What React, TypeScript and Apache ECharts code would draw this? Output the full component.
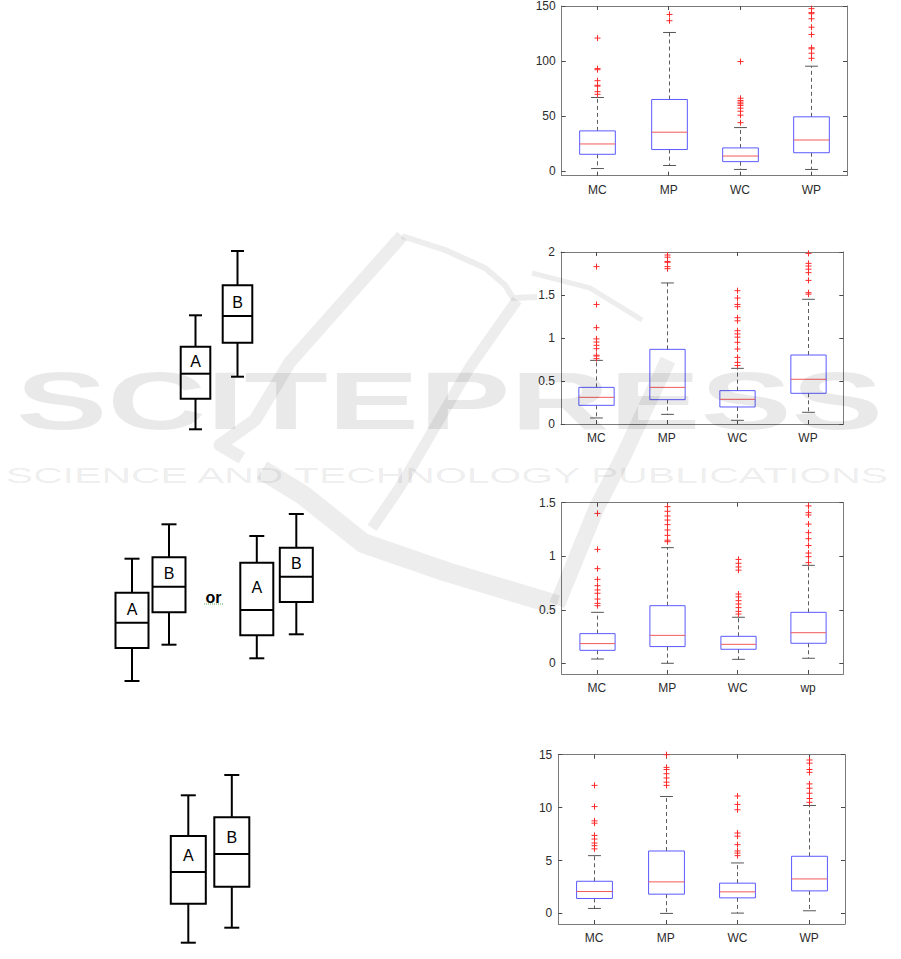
import React, { useEffect, useRef } from "react";
import * as echarts from "echarts";

// ---------- data ----------
const categoriesA = ["MC", "MP", "WC", "WP"];
const categoriesC = ["MC", "MP", "WC", "wp"];

// per group: [lower whisker, Q1, median, Q3, upper whisker]
const panel1Stats = [
  [2, 15, 24.4, 36.3, 66.7],
  [4.8, 19.3, 35.1, 64.9, 125.9],
  [1.2, 8.3, 13.4, 20.8, 39.3],
  [1.2, 16.4, 28, 49.1, 95.2],
];
const panel1Outliers = [
  [69.6, 72, 77, 77.8, 82, 92, 93, 120.8],
  [136.6, 142.3],
  [43.8, 50.6, 54.2, 57, 59.5, 61, 62.5, 64, 66, 99.4],
  [102.4, 107, 111, 112, 124, 130.7, 138.4, 143, 144, 147.6],
];

const panel2Stats = [
  [0.07, 0.217, 0.31, 0.426, 0.74],
  [0.112, 0.283, 0.426, 0.868, 1.64],
  [0.043, 0.198, 0.287, 0.388, 0.647],
  [0.136, 0.357, 0.52, 0.802, 1.45],
];
const panel2Outliers = [
  [0.76, 0.79, 0.8, 0.876, 0.915, 0.953, 0.99, 1.12, 1.39, 1.83],
  [1.806, 1.83, 1.88, 1.89, 1.94, 1.965],
  [0.68, 0.717, 0.775, 0.872, 0.95, 1.01, 1.047, 1.085, 1.2, 1.236, 1.364, 1.39, 1.465, 1.55],
  [1.51, 1.527, 1.67, 1.76, 1.8, 1.837, 1.868, 1.984],
];

const panel3Stats = [
  [0.04, 0.121, 0.184, 0.277, 0.476],
  [0, 0.156, 0.261, 0.538, 1.08],
  [0.037, 0.131, 0.177, 0.252, 0.43],
  [0.047, 0.187, 0.286, 0.476, 0.915],
];
const panel3Outliers = [
  [0.538, 0.56, 0.6, 0.654, 0.685, 0.725, 0.784, 0.884, 1.064, 1.4],
  [1.136, 1.15, 1.195, 1.245, 1.295, 1.338, 1.376, 1.42, 1.463],
  [0.46, 0.485, 0.52, 0.554, 0.585, 0.62, 0.647, 0.87, 0.9, 0.934, 0.97],
  [0.94, 0.996, 1.03, 1.1, 1.164, 1.22, 1.3, 1.385, 1.407, 1.47],
];

const panel4Stats = [
  [0.47, 1.41, 2.07, 3.04, 5.46],
  [0, 1.82, 2.98, 5.9, 11.05],
  [0.03, 1.47, 2.04, 2.86, 4.77],
  [0.25, 2.13, 3.26, 5.4, 10.2],
];
const panel4Outliers = [
  [6.1, 6.4, 6.65, 7.03, 7.37, 8.53, 8.75, 10.1, 12.1],
  [12.1, 12.4, 12.8, 13.2, 13.6, 13.8, 15],
  [5.46, 5.7, 5.9, 6.5, 7.3, 7.6, 9.8, 10.3, 11.1],
  [10.5, 10.86, 11.36, 11.83, 12.24, 13.33, 13.6, 14.2, 14.5],
];

const panel1Ticks = [0, 50, 100, 150];
const panel2Ticks = [0, 0.5, 1, 1.5, 2];
const panel3Ticks = [0, 0.5, 1, 1.5];
const panel4Ticks = [0, 5, 10, 15];

// schematic illustrations: [label, centre, whisker top, box top, median, box bottom, whisker bottom]
const schematicTop = [
  ["A", 195.5, 315.3, 346.7, 373.7, 398.7, 429.3],
  ["B", 237.5, 251, 285.3, 316, 342.7, 376.7],
];
const schematicMiddleLeft = [
  ["A", 132, 558.7, 592.7, 622.7, 648, 681],
  ["B", 169, 524.3, 557.3, 586.7, 612.3, 644.7],
];
const schematicMiddleRight = [
  ["A", 256.8, 536, 562.7, 610, 635.3, 658.3],
  ["B", 296.3, 514, 547.7, 576.7, 602, 634.3],
];
const schematicBottom = [
  ["A", 188.3, 795.3, 836, 872, 903.7, 942.7],
  ["B", 231.8, 775, 817.3, 854, 886.7, 927.7],
];

// ---------- rendering helpers ----------
const FONT = '"Liberation Sans", Arial, Helvetica, sans-serif';

function matBoxRender(params: any, api: any) {
  const i = api.value(0);
  const lo = api.coord([i, api.value(1)]);
  const q1 = api.coord([i, api.value(2)]);
  const md = api.coord([i, api.value(3)]);
  const q3 = api.coord([i, api.value(4)]);
  const hi = api.coord([i, api.value(5)]);
  const band = api.size([1, 0])[0];
  const hw = band * 0.25;
  const cw = band * 0.09;
  const cx = Math.round(lo[0]) + 0.5;
  const dash = { stroke: "#5c5c5c", lineWidth: 1, lineDash: [4, 3] };
  const cap = { stroke: "#555555", lineWidth: 1 };
  return {
    type: "group",
    children: [
      { type: "line", shape: { x1: cx, y1: q3[1], x2: cx, y2: hi[1] }, style: dash },
      { type: "line", shape: { x1: cx, y1: q1[1], x2: cx, y2: lo[1] }, style: dash },
      { type: "line", shape: { x1: cx - cw, y1: hi[1], x2: cx + cw, y2: hi[1] }, style: cap },
      { type: "line", shape: { x1: cx - cw, y1: lo[1], x2: cx + cw, y2: lo[1] }, style: cap },
      {
        type: "rect",
        shape: { x: cx - hw, y: q3[1], width: hw * 2, height: q1[1] - q3[1] },
        style: { fill: "none", stroke: "#5a5aff", lineWidth: 1 },
      },
      { type: "line", shape: { x1: cx - hw, y1: md[1], x2: cx + hw, y2: md[1] }, style: { stroke: "#f25a5a", lineWidth: 1 } },
    ],
  };
}

function plusRender(params: any, api: any) {
  const p = api.coord([api.value(0), api.value(1)]);
  const x = Math.round(p[0]) + 0.5;
  const y = p[1];
  const s = 3;
  const st = { stroke: "#ff2a2a", lineWidth: 1 };
  return {
    type: "group",
    children: [
      { type: "line", shape: { x1: x - s, y1: y, x2: x + s, y2: y }, style: st },
      { type: "line", shape: { x1: x, y1: y - s, x2: x, y2: y + s }, style: st },
    ],
  };
}

function makeSchematicRender(boxWidth: number, capWidth: number) {
  return (params: any, api: any) => {
    const cx = api.value(1);
    const pts = [2, 3, 4, 5, 6].map((k) => api.coord([cx, api.value(k)]));
    const x = pts[0][0];
    const [wt, bt, md, bb, wb] = pts.map((p: number[]) => p[1]);
    const hw = boxWidth / 2;
    const ln = { stroke: "#000", lineWidth: 2 };
    const label = params.dataIndex === 0 ? "A" : "B";
    return {
      type: "group",
      children: [
        { type: "line", shape: { x1: x, y1: wt, x2: x, y2: bt }, style: ln },
        { type: "line", shape: { x1: x, y1: bb, x2: x, y2: wb }, style: ln },
        { type: "line", shape: { x1: x - capWidth / 2, y1: wt, x2: x + capWidth / 2, y2: wt }, style: ln },
        { type: "line", shape: { x1: x - capWidth / 2, y1: wb, x2: x + capWidth / 2, y2: wb }, style: ln },
        { type: "rect", shape: { x: x - hw, y: bt, width: hw * 2, height: bb - bt }, style: { fill: "#fff", stroke: "#000", lineWidth: 2 } },
        { type: "line", shape: { x1: x - hw, y1: md, x2: x + hw, y2: md }, style: ln },
        {
          type: "text",
          style: {
            text: label,
            x: x,
            y: (bt + md) / 2 + 1.5,
            align: "center",
            verticalAlign: "middle",
            font: `16px ${FONT}`,
            fill: "#000",
          },
        },
      ],
    };
  };
}

type PanelDef = {
  grid: { left: number; top: number; width: number; height: number };
  cats: string[];
  min: number;
  max: number;
  ticks: number[];
  stats: number[][];
  outliers: number[][];
};

const panels: PanelDef[] = [
  { grid: { left: 561.7, top: 2.7, width: 285.3, height: 173 }, cats: categoriesA, min: -4.5, max: 150, ticks: panel1Ticks, stats: panel1Stats, outliers: panel1Outliers },
  { grid: { left: 561, top: 252, width: 282.3, height: 172 }, cats: categoriesA, min: 0, max: 2, ticks: panel2Ticks, stats: panel2Stats, outliers: panel2Outliers },
  { grid: { left: 561.7, top: 502.7, width: 281.6, height: 171.3 }, cats: categoriesC, min: -0.1, max: 1.5, ticks: panel3Ticks, stats: panel3Stats, outliers: panel3Outliers },
  { grid: { left: 558.3, top: 754.7, width: 286.7, height: 169.3 }, cats: categoriesA, min: -1, max: 15, ticks: panel4Ticks, stats: panel4Stats, outliers: panel4Outliers },
];

function buildOption() {
  const grid: any[] = [];
  const xAxis: any[] = [];
  const yAxis: any[] = [];
  const series: any[] = [];
  const axisLine = { show: true, onZero: false, lineStyle: { color: "#7a7a7a", width: 1 } };
  const tick = { show: true, inside: true, length: 4, lineStyle: { color: "#4a4a4a" } };

  panels.forEach((p, gi) => {
    grid.push({ ...p.grid, containLabel: false });
    const xb = xAxis.length;
    xAxis.push({
      type: "category", gridIndex: gi, data: p.cats, position: "bottom",
      axisLine, axisTick: { ...tick, alignWithLabel: true },
      axisLabel: { color: "#2b2b2b", fontSize: 12, fontFamily: FONT, margin: 8 },
      splitLine: { show: false },
    });
    xAxis.push({
      type: "category", gridIndex: gi, data: p.cats, position: "top",
      axisLine, axisTick: { ...tick, alignWithLabel: true },
      axisLabel: { show: false }, splitLine: { show: false },
    });
    const yl = yAxis.length;
    yAxis.push({
      type: "value", gridIndex: gi, min: p.min, max: p.max, position: "left",
      axisLine, axisTick: { ...tick, customValues: p.ticks },
      axisLabel: { customValues: p.ticks, color: "#2b2b2b", fontSize: 12, fontFamily: FONT, margin: 6 },
      splitLine: { show: false },
    });
    yAxis.push({
      type: "value", gridIndex: gi, min: p.min, max: p.max, position: "right",
      axisLine, axisTick: { ...tick, customValues: p.ticks },
      axisLabel: { show: false }, splitLine: { show: false },
    });
    series.push({
      type: "custom", xAxisIndex: xb, yAxisIndex: yl, renderItem: matBoxRender,
      data: p.stats.map((s, i) => [i, ...s]), silent: true, clip: false,
    });
    const pts: number[][] = [];
    p.outliers.forEach((arr, i) => arr.forEach((v) => pts.push([i, v])));
    series.push({
      type: "custom", xAxisIndex: xb, yAxisIndex: yl, renderItem: plusRender,
      data: pts, silent: true, clip: false,
    });
  });

  // hidden grid for schematic drawings (page coordinates)
  const sg = grid.length;
  grid.push({ left: 0, top: 0, width: 901, height: 959 });
  const sx = xAxis.length;
  xAxis.push({ type: "value", gridIndex: sg, min: 0, max: 901, show: false });
  const sy = yAxis.length;
  yAxis.push({ type: "value", gridIndex: sg, min: 0, max: 959, inverse: true, show: false });
  const schem: [any[], number, number][] = [
    [schematicTop, 29.6, 13],
    [schematicMiddleLeft, 33, 15],
    [schematicMiddleRight, 33, 15],
    [schematicBottom, 35, 15],
  ];
  schem.forEach(([d, bw, cw]) => {
    series.push({
      type: "custom", xAxisIndex: sx, yAxisIndex: sy,
      renderItem: makeSchematicRender(bw, cw),
      data: d.map((r) => [0, ...r.slice(1)]), silent: true, clip: false,
    });
  });

  const wm = "rgba(0,0,0,0.085)";
  const wl = "rgba(0,0,0,0.07)";
  const graphic: any[] = [
    {
      type: "text", x: 213.5, y: 597.5, z: 50,
      style: { text: "or", font: `bold 16px ${FONT}`, fill: "#000", align: "center", verticalAlign: "middle" },
    },
    {
      type: "line", z: 50, shape: { x1: 204, y1: 604, x2: 223, y2: 604 },
      style: { stroke: "#5fae5f", lineWidth: 1, lineDash: [1, 1] },
    },
    // watermark
    {
      type: "text", x: 16, y: 401, z: 100, scaleX: 1.69,
      style: { text: "SCITEPRESS", font: `bold 81px ${FONT}`, fill: wm, align: "left", verticalAlign: "middle" },
    },
    {
      type: "text", x: 6, y: 475, z: 100, scaleX: 1.86,
      style: { text: "SCIENCE AND TECHNOLOGY PUBLICATIONS", font: `22px ${FONT}`, fill: wm, align: "left", verticalAlign: "middle" },
    },
    {
      type: "polyline", z: 100,
      shape: { points: [[402, 236], [345, 300], [290, 362], [255, 420], [220, 445], [242, 458]] },
      style: { stroke: wl, lineWidth: 13, fill: "none", lineJoin: "round" },
    },
    {
      type: "polyline", z: 100,
      shape: { points: [[402, 236], [445, 250], [485, 268], [505, 285], [513, 298], [537, 297]] },
      style: { stroke: wl, lineWidth: 6, fill: "none", lineJoin: "round" },
    },
    {
      type: "polyline", z: 100,
      shape: { points: [[532, 273], [590, 288], [642, 320]] },
      style: { stroke: wl, lineWidth: 5, fill: "none", lineJoin: "round" },
    },
    {
      type: "polyline", z: 100,
      shape: { points: [[517, 300], [470, 367], [400, 487], [372, 528]] },
      style: { stroke: wl, lineWidth: 11, fill: "none", lineJoin: "round" },
    },
    {
      type: "polyline", z: 100,
      shape: { points: [[262, 470], [303, 495], [363, 543], [447, 572], [557, 605]] },
      style: { stroke: wl, lineWidth: 20, fill: "none", lineJoin: "round" },
    },
    {
      type: "polyline", z: 100,
      shape: { points: [[557, 605], [597, 507], [623, 457], [668, 360]] },
      style: { stroke: wl, lineWidth: 16, fill: "none", lineJoin: "round" },
    },
  ];

  return { animation: false, backgroundColor: "#fff", grid, xAxis, yAxis, series, graphic };
}

export default function App() {
  const ref = useRef<HTMLDivElement>(null);
  useEffect(() => {
    if (!ref.current) return;
    const chart = echarts.init(ref.current, null, { renderer: "svg" });
    chart.setOption(buildOption() as any);
    return () => chart.dispose();
  }, []);
  return (
    <div
      ref={ref}
      style={{ position: "absolute", left: 0, top: 0, width: 901, height: 959, background: "#fff" }}
    />
  );
}
